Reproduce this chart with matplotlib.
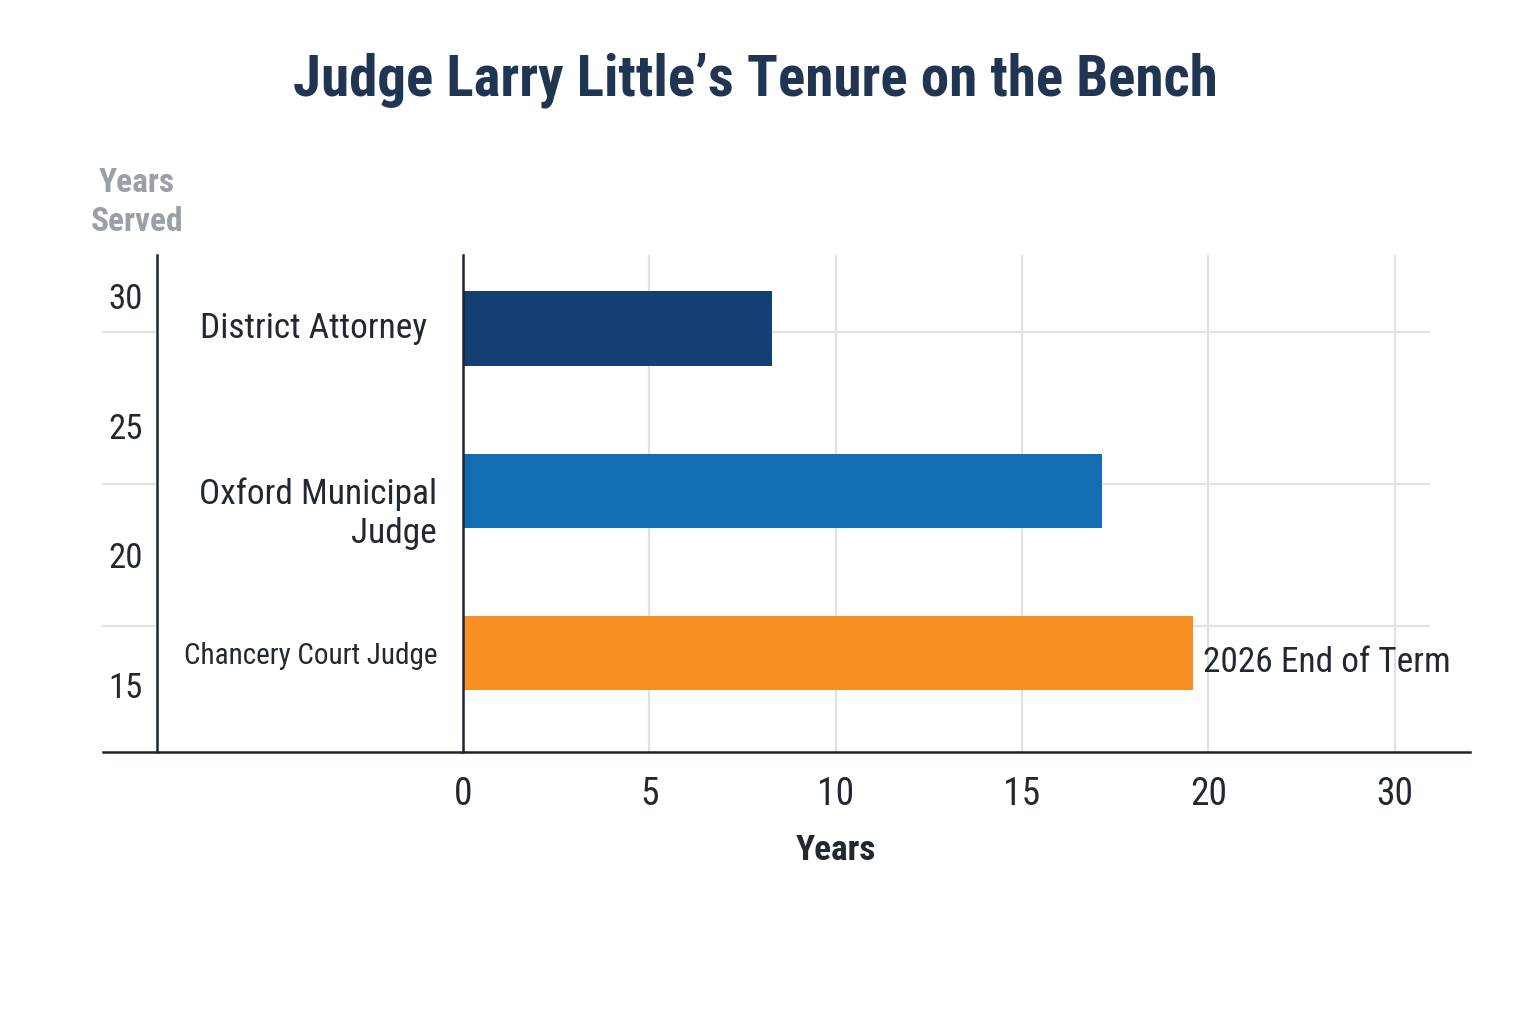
import matplotlib
matplotlib.use("Agg")
import matplotlib.pyplot as plt
from matplotlib import transforms
from matplotlib.lines import Line2D
import logging
logging.getLogger('matplotlib.font_manager').setLevel(logging.ERROR)

# ---- data ----
roles = ["District Attorney", "Oxford Municipal\nJudge", "Chancery Court Judge"]
years = [8.3, 17.15, 19.6]
bar_colors = ["#153f72", "#136db3", "#f78f25"]
x_ticks = [0, 5, 10, 15, 20, 25]
x_tick_labels = ["0", "5", "10", "15", "20", "30"]
left_ticks = [15, 20, 25, 30]
left_tick_labels = ["15", "20", "25", "30"]
annotation = "2026 End of Term"
title = "Judge Larry Little\u2019s Tenure on the Bench"

plt.rcParams['font.family'] = ['Roboto Condensed', 'Roboto', 'DejaVu Sans']
plt.rcParams['font.stretch'] = 'condensed'

W, H = 1536, 1024
fig = plt.figure(figsize=(W / 100, H / 100), dpi=100)
fig.patch.set_facecolor("white")

def fx(px): return px / W
def fy(py): return 1 - py / H

top_px, bot_px = 255, 752
ax_l, ax_r = 463, 1430
txt = "#222831"

# left "Years Served" axis
axl = fig.add_axes([fx(157), fy(bot_px), fx(ax_l) - fx(157), fy(top_px) - fy(bot_px)])
axl.set_facecolor("none")
axl.set_ylim(12.42, 31.58)
axl.set_yticks(left_ticks)
axl.set_yticklabels(left_tick_labels)
axl.tick_params(axis="y", length=0, pad=10, labelsize=25, labelcolor=txt)
axl.set_xticks([])
for s in ["top", "right", "bottom"]:
    axl.spines[s].set_visible(False)
axl.spines["left"].set_color("#1c2430")
axl.spines["left"].set_linewidth(1.8)
axl.spines["left"].set_zorder(6)

# main axes
ax = fig.add_axes([fx(ax_l), fy(bot_px), fx(ax_r) - fx(ax_l), fy(top_px) - fy(bot_px)])
ax.set_facecolor("none")
xmax = 25.95
ax.set_xlim(0, xmax)
ax.set_ylim(2.61, -0.455)
ypos = list(range(len(roles)))
ax.barh(ypos, years, height=0.46, color=bar_colors, zorder=3)

ax.set_xticks(x_ticks)
ax.set_xticklabels(x_tick_labels)
ax.tick_params(axis="x", length=0, pad=17, labelsize=27, labelcolor=txt)
ax.set_yticks([])
for s in ["top", "right", "bottom"]:
    ax.spines[s].set_visible(False)
ax.spines["left"].set_color("#1c2430")
ax.spines["left"].set_linewidth(1.8)
ax.spines["left"].set_zorder(5)

grid_c = "#dfe2e6"
for xv in x_ticks[1:]:
    ax.axvline(xv, color=grid_c, lw=1.6, zorder=1)
row_lines = [0.02, 0.955, 1.83]
for yv in row_lines:
    ax.axhline(yv, color=grid_c, lw=1.6, zorder=1)
    ax.axhline(yv, xmin=(103 - ax_l) / (ax_r - ax_l), xmax=(155 - ax_l) / (ax_r - ax_l),
               color=grid_c, lw=1.6, zorder=1, clip_on=False)

# category labels
lab_tr = transforms.blended_transform_factory(fig.transFigure, ax.transData)
label_sizes = [25.5, 25.5, 21]
label_dy = [0.0, 0.14, 0.02]
label_right = [427, 437, 437]
for i, r in enumerate(roles):
    ax.text(fx(label_right[i]), i + label_dy[i], r, transform=lab_tr, ha="right", va="center",
            fontsize=label_sizes[i], color=txt, linespacing=1.2)

# annotation
ax.annotate(annotation, xy=(years[2], 2), xytext=(7, -6.5), textcoords="offset points",
            ha="left", va="center", fontsize=25.5, color=txt, zorder=4)

# bottom axis line across figure
fig.add_artist(Line2D([fx(103), fx(1470)], [fy(bot_px), fy(bot_px)], color="#1c2430", lw=1.8))

# x label
xl_tr = transforms.blended_transform_factory(ax.transData, fig.transFigure)
ax.text(10, fy(850), "Years", transform=xl_tr, ha="center", va="center",
        fontsize=25.5, color=txt, fontweight="semibold")

# left axis title
fig.text(fx(137), fy(183), "Years", ha="center", va="center", fontsize=24,
         color="#9aa0a8", fontweight="bold")
fig.text(fx(137), fy(222), "Served", ha="center", va="center", fontsize=24,
         color="#9aa0a8", fontweight="bold")

# title
fig.text(fx(755), fy(80), title, ha="center", va="center", fontsize=41,
         color="#1f3552", fontweight="bold")

fig.savefig("out.png", dpi=100, facecolor="white")
